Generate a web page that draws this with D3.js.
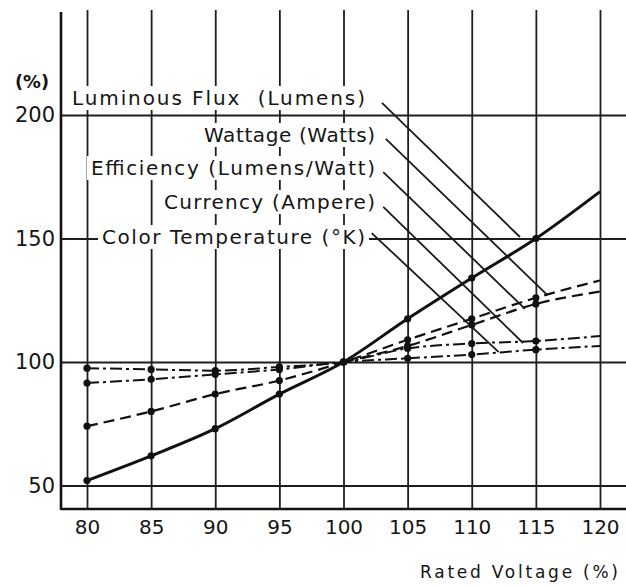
<!DOCTYPE html>
<html lang="en">

<head>
    <meta charset="UTF-8">
    <title>Rated Voltage</title>
    <script src="https://d3js.org/d3.v7.min.js"></script>
    <style>
        body { margin: 0; background: #fff; }
        text { font-family: "DejaVu Sans", sans-serif; fill: #151515; }
    </style>
</head>

<body>
    <script>
        // values (% of rated)
        var voltage = [80, 85, 90, 95, 100, 105, 110, 115, 120];
        var luminousFlux = [52, 62, 73, 87, 100, 117.5, 134, 150, 169];
        var wattage = [74, 80, 87, 92.5, 100, 109, 117.5, 126, 133];
        var efficiency = [null, null, null, null, 100, 106.5, 115, 123.5, 128.5];
        var currency = [97.5, 97, 96.5, 98, 100, 105.5, 107.5, 108.5, 110.5];
        var colorTemp = [91.5, 93, 95, 97, 100, 101.5, 103, 105, 106.5];
        var yTicks = [50, 100, 150, 200];
        var labels = ["Luminous Flux  (Lumens)", "Wattage (Watts)", "Efficiency (Lumens/Watt)",
            "Currency (Ampere)", "Color Temperature (°K)"];

        var width = 626;
        var height = 586;
        var plotLeft = 61, plotBottom = 509, plotTop = 10;

        var x = d3.scaleLinear().domain([80, 120]).range([87, 600]);
        var y = d3.scaleLinear().domain([50, 200]).range([485.5, 115]);

        var svg = d3.select("body")
            .append("svg")
            .attr("width", width)
            .attr("height", height);

        // vertical grid + x tick labels
        var gx = svg.append("g")
            .attr("transform", "translate(0," + plotBottom + ")")
            .call(d3.axisBottom(x).tickValues(voltage).tickSize(-(plotBottom - plotTop)).tickFormat(d3.format("d")));
        gx.select(".domain").remove();
        gx.selectAll(".tick line").attr("stroke", "#1e1e1e").attr("stroke-width", 1.8);
        gx.selectAll(".tick text")
            .attr("y", 18).attr("dy", "0.35em")
            .style("font-size", "20px")
            .style("font-family", "DejaVu Sans");

        // horizontal grid + y tick labels
        var gy = svg.append("g")
            .attr("transform", "translate(" + plotLeft + ",0)")
            .call(d3.axisLeft(y).tickValues(yTicks).tickSize(-(width - plotLeft)).tickPadding(6));
        gy.select(".domain").remove();
        gy.selectAll(".tick line").attr("stroke", "#1e1e1e").attr("stroke-width", 1.8);
        gy.selectAll(".tick text")
            .style("font-size", "21px")
            .style("font-family", "DejaVu Sans");

        // series labels sit on white boxes that cut the grid
        var labelPos = [[72, 98, 293], [204, 135, 171], [91, 168, 284], [164, 202, 211], [102, 237, 263]];
        var lab = svg.append("g");
        labels.forEach(function (t, i) {
            var p = labelPos[i];
            lab.append("rect")
                .attr("x", p[0] - 4).attr("y", p[1] - 12)
                .attr("width", p[2] + 8).attr("height", 24)
                .attr("fill", "#fff");
            lab.append("text")
                .attr("x", p[0]).attr("y", p[1])
                .attr("dy", "0.35em")
                .attr("textLength", p[2])
                .attr("lengthAdjust", "spacing")
                .style("font-size", "20px")
                .style("white-space", "pre")
                .text(t);
        });

        // axes
        svg.append("line").attr("x1", plotLeft).attr("x2", plotLeft).attr("y1", 12).attr("y2", plotBottom + 1)
            .attr("stroke", "#111").attr("stroke-width", 2.6);
        svg.append("line").attr("x1", plotLeft).attr("x2", width).attr("y1", plotBottom).attr("y2", plotBottom)
            .attr("stroke", "#111").attr("stroke-width", 2.6);

        svg.append("text").attr("x", 15).attr("y", 82).attr("dy", "0.35em")
            .attr("textLength", 34).attr("lengthAdjust", "spacingAndGlyphs")
            .style("font-size", "17px").style("font-weight", "bold").text("(%)");
        svg.append("text").attr("x", 420).attr("y", 572).attr("dy", "0.35em")
            .attr("textLength", 198).attr("lengthAdjust", "spacing")
            .style("font-size", "17px").text("Rated Voltage (%)");

        // curves
        var series = [
            { values: luminousFlux, dash: null, w: 3 },
            { values: wattage, dash: "11,6", w: 2.2 },
            { values: efficiency, dash: "11,6", w: 2.2 },
            { values: currency, dash: "12,4,3,4", w: 2 },
            { values: colorTemp, dash: "12,4,3,4", w: 2 }
        ];
        var line = d3.line()
            .defined(function (d) { return d != null; })
            .x(function (d, i) { return x(voltage[i]); })
            .y(function (d) { return y(d); })
            .curve(d3.curveMonotoneX);

        svg.selectAll("path.series")
            .data(series)
            .enter()
            .append("path")
            .attr("class", "series")
            .attr("d", function (d) { return line(d.values); })
            .attr("fill", "none")
            .attr("stroke", "#111")
            .attr("stroke-width", function (d) { return d.w; })
            .attr("stroke-dasharray", function (d) { return d.dash; });

        // leader lines from labels to curves (data units)
        var leaders = [
            [[103.0, 204.9], [113.76, 150.6]],
            [[103.3, 190.3], [115.9, 127.1]],
            [[103.1, 176.9], [114.15, 121.5]],
            [[103.1, 162.8], [114.0, 107.7]],
            [[102.2, 152.2], [112.1, 104.0]]
        ];
        svg.selectAll("line.leader")
            .data(leaders)
            .enter()
            .append("line")
            .attr("class", "leader")
            .attr("x1", function (d) { return x(d[0][0]); })
            .attr("y1", function (d) { return y(d[0][1]); })
            .attr("x2", function (d) { return x(d[1][0]); })
            .attr("y2", function (d) { return y(d[1][1]); })
            .attr("stroke", "#1a1a1a")
            .attr("stroke-width", 1.8);

        // point markers (none at the 120 end)
        series.forEach(function (s) {
            s.values.forEach(function (v, i) {
                if (v == null || voltage[i] === 120) return;
                svg.append("circle")
                    .attr("cx", x(voltage[i]))
                    .attr("cy", y(v))
                    .attr("r", 3.6)
                    .attr("fill", "#111");
            });
        });
    </script>
</body>

</html>
